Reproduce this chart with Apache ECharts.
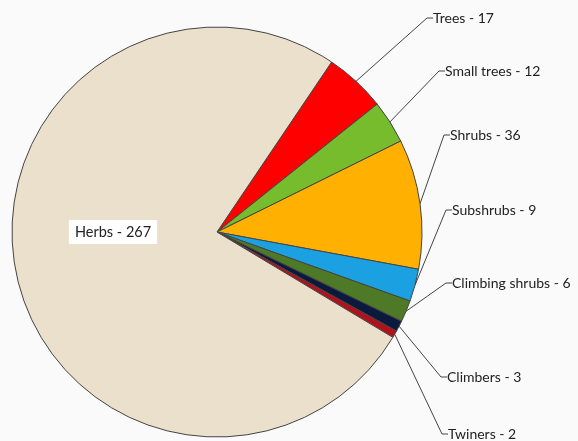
<!DOCTYPE html>
<html>
<head>
<meta charset="utf-8">
<script src="https://cdn.jsdelivr.net/npm/echarts@6/dist/echarts.min.js"></script>
<style>html,body{margin:0;padding:0;background:#fafafa;}#c{width:578px;height:441px;}</style>
</head>
<body>
<div id="c"></div>
<script>
var categories = ['Trees', 'Small trees', 'Shrubs', 'Subshrubs', 'Climbing shrubs', 'Climbers', 'Twiners', 'Herbs'];
var values = [17, 12, 36, 9, 6, 3, 2, 267];
var colors = ['#ff0000', '#76bc2c', '#ffb000', '#1ba1e2', '#4e7a27', '#0b1a3c', '#b0111a', '#ebe0cc'];
// label anchor positions (layout only)
var labelX = [433, 445, 450, 452, 452, 447, 448, 113];
var labelY = [18, 71, 135, 210, 283, 377, 434, 232];

var chart = echarts.init(document.getElementById('c'));
var data = categories.map(function (n, i) {
  var d = { name: n, value: values[i], itemStyle: { color: colors[i] } };
  if (n === 'Herbs') {
    d.label = { position: 'inner', backgroundColor: '#ffffff', padding: [5, 6, 4, 6], fontSize: 14.5, overflow: 'none' };
    d.labelLine = { show: false };
  }
  return d;
});
chart.setOption({
  backgroundColor: '#fafafa',
  animation: false,
  series: [{
    type: 'pie',
    center: [217, 232],
    radius: 205,
    startAngle: 56,
    clockwise: true,
    data: data,
    itemStyle: { borderColor: '#444', borderWidth: 1 },
    label: {
      show: true,
      formatter: '{b} - {c}',
      fontFamily: 'Lato',
      fontSize: 14,
      color: '#222',
      overflow: 'none'
    },
    labelLine: {
      show: true,
      length: 20,
      length2: 6,
      lineStyle: { color: '#444', width: 1 }
    },
    labelLayout: function (p) {
      var i = p.dataIndex;
      return { x: labelX[i], y: labelY[i], align: i === 7 ? 'center' : 'left', verticalAlign: 'middle' };
    }
  }]
});
</script>
</body>
</html>
